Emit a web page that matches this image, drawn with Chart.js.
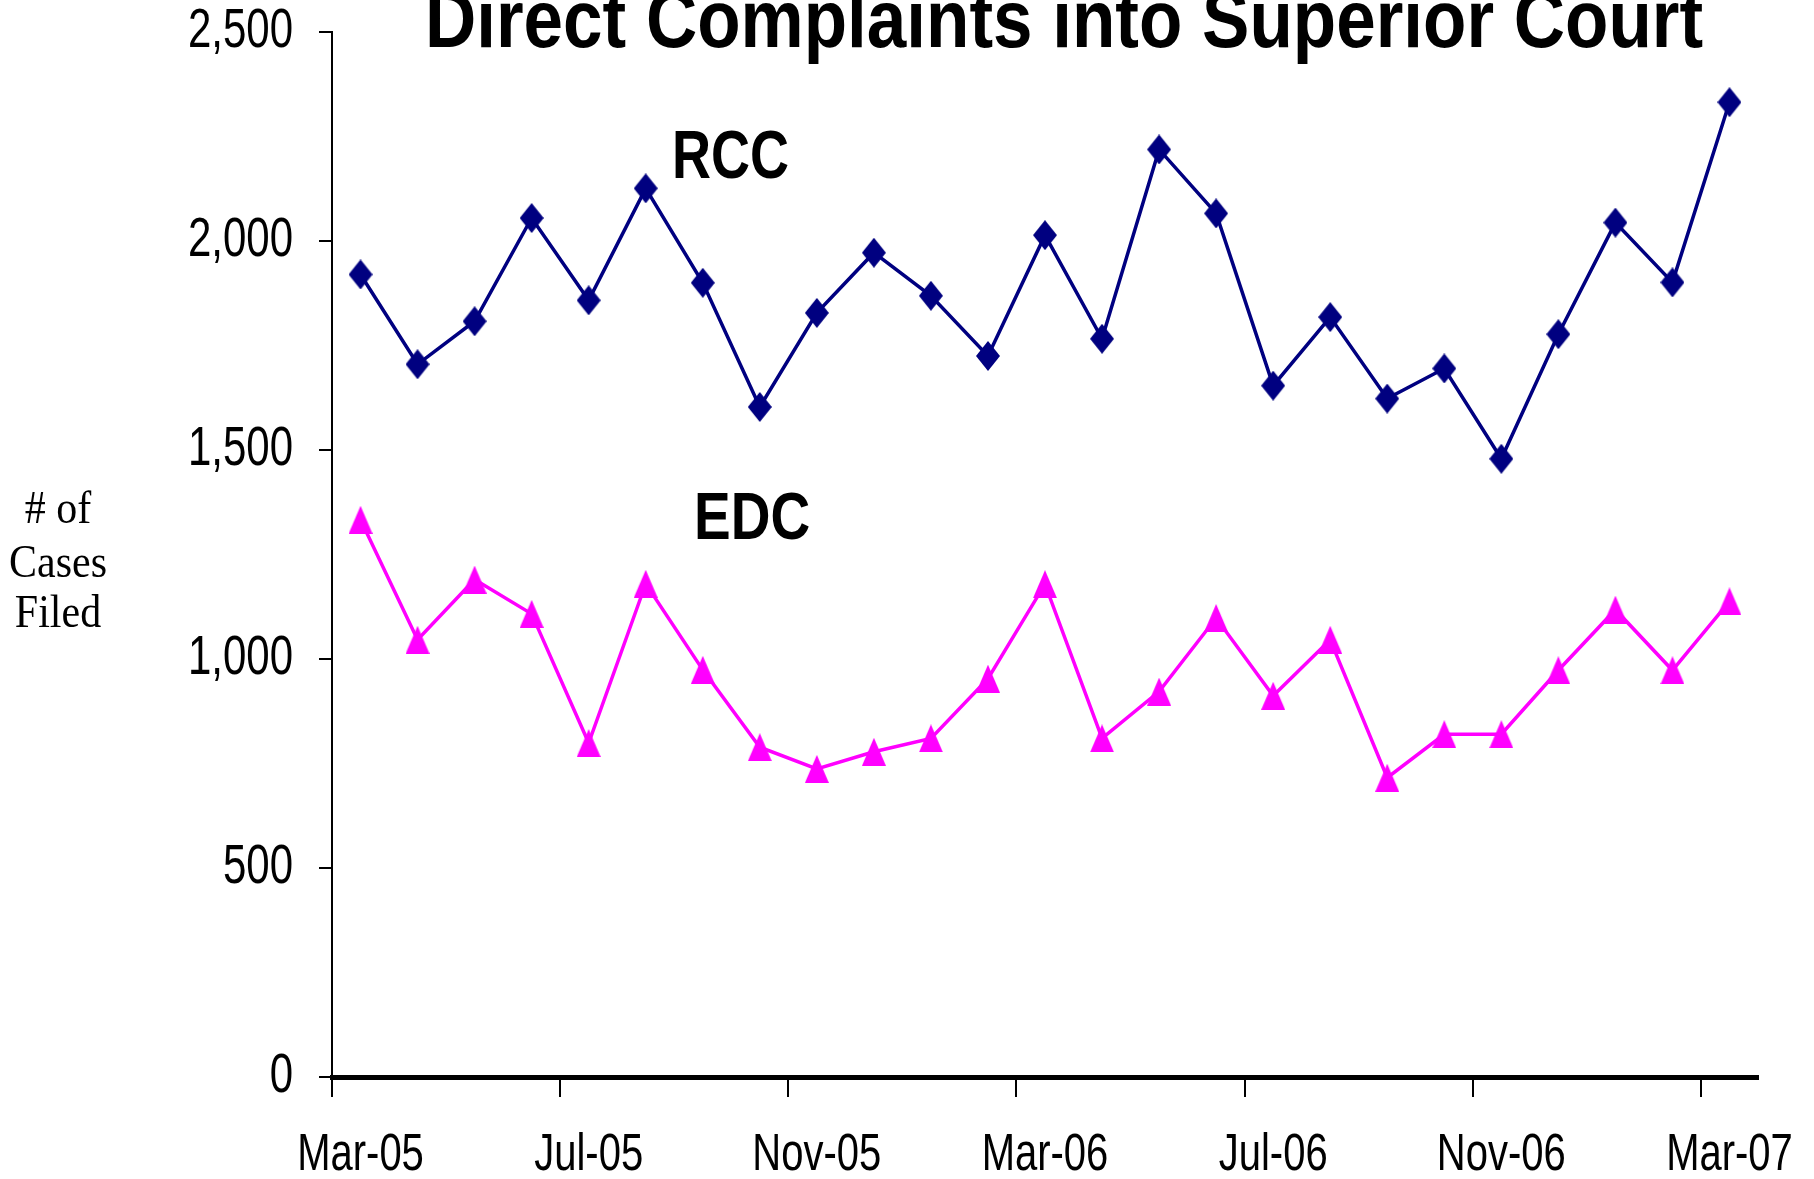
<!DOCTYPE html>
<html>
<head>
<meta charset="utf-8">
<script src="https://cdn.jsdelivr.net/npm/chart.js@4/dist/chart.umd.min.js"></script>
<style>
  html, body { margin: 0; padding: 0; background: #ffffff; }
  #wrap { width: 1814px; height: 1179px; position: relative; }
</style>
</head>
<body>
<div id="wrap"><canvas id="c"></canvas></div>
<script>
// ---- data ----
const months = ['Mar-05','Apr-05','May-05','Jun-05','Jul-05','Aug-05','Sep-05','Oct-05','Nov-05','Dec-05','Jan-06','Feb-06',
                'Mar-06','Apr-06','May-06','Jun-06','Jul-06','Aug-06','Sep-06','Oct-06','Nov-06','Dec-06','Jan-07','Feb-07','Mar-07'];
const rccValues = [1920,1705,1808,2055,1858,2126,1900,1603,1828,1972,1869,1725,2014,1766,2219,2066,1654,1818,1623,1695,1479,1777,2044,1901,2332];
const edcValues = [1333,1046,1190,1108,799,1180,974,789,737,778,810,953,1179,810,922,1098,912,1046,716,820,820,973,1118,973,1138];
const xTickLabels = ['Mar-05','Jul-05','Nov-05','Mar-06','Jul-06','Nov-06','Mar-07'];
const yTickValues = [0,500,1000,1500,2000,2500];
const chartTitle = 'Direct Complaints into Superior Court';
const yAxisTitle = ['# of','Cases','Filed'];
const seriesNames = ['RCC','EDC'];

const SANS = "'Liberation Sans', Arial, Helvetica, sans-serif";
const SERIF = "'Liberation Serif', 'Times New Roman', serif";

// ---- marker images ----
function diamond(w, h, color) {
  const cv = document.createElement('canvas'); cv.width = w; cv.height = h;
  const g = cv.getContext('2d'); g.fillStyle = color; g.beginPath();
  g.moveTo(w/2, 0); g.lineTo(w, h/2); g.lineTo(w/2, h); g.lineTo(0, h/2); g.closePath(); g.fill();
  return cv;
}
function triangle(w, h, color) {
  const cv = document.createElement('canvas'); cv.width = w; cv.height = h;
  const g = cv.getContext('2d'); g.fillStyle = color; g.beginPath();
  g.moveTo(w/2, 0); g.lineTo(w, h); g.lineTo(0, h); g.closePath(); g.fill();
  return cv;
}
const NAVY = '#000080', MAGENTA = '#ff00ff';
const diamondImg = diamond(24, 30, NAVY);
const triImg = triangle(24, 28, MAGENTA);

// The reference text is vertically elongated; draw all text with a vertical stretch.
let textStretch = 1.3;
const tallText = {
  id: 'tallText',
  beforeDraw(chart) {
    const ctx = chart.ctx;
    if (ctx.__patched) return;
    const orig = ctx.fillText;
    ctx.fillText = function (t, x, y, m) {
      this.save();
      this.translate(x, y);
      this.scale(1, textStretch);
      if (m === undefined) orig.call(this, t, 0, 0); else orig.call(this, t, 0, 0, m);
      this.restore();
    };
    ctx.__patched = true;
  }
};

function stretchedText(ctx, text, x, y, sy) {
  const old = textStretch; textStretch = sy;
  ctx.fillText(text, x, y);
  textStretch = old;
}

const annotations = {
  id: 'annotations',
  afterDraw(chart) {
    const ctx = chart.ctx;
    ctx.save();
    ctx.fillStyle = '#000';
    ctx.textBaseline = 'alphabetic';
    ctx.textAlign = 'center';
    ctx.font = 'bold 71px ' + SANS;
    stretchedText(ctx, chartTitle, 1064, 47, 1.15);
    ctx.textAlign = 'left';
    ctx.font = 'bold 54px ' + SANS;
    stretchedText(ctx, seriesNames[0], 672, 178, 1.28);
    ctx.font = 'bold 55px ' + SANS;
    stretchedText(ctx, seriesNames[1], 694, 539, 1.2);
    ctx.textAlign = 'center';
    ctx.font = '42px ' + SERIF;
    const ys = [523, 577, 627];
    yAxisTitle.forEach((t, i) => stretchedText(ctx, t, 58, ys[i], 1.1));
    ctx.restore();
  }
};

new Chart(document.getElementById('c'), {
  type: 'line',
  data: {
    labels: months,
    datasets: [
      { label: seriesNames[0], data: rccValues, borderColor: NAVY, backgroundColor: NAVY, borderWidth: 3.5,
        pointStyle: diamondImg, tension: 0, fill: false },
      { label: seriesNames[1], data: edcValues, borderColor: MAGENTA, backgroundColor: MAGENTA, borderWidth: 3.5,
        pointStyle: triImg, tension: 0, fill: false }
    ]
  },
  options: {
    responsive: true,
    maintainAspectRatio: false,
    animation: false,
    layout: { padding: { top: 32, right: 56, left: 0, bottom: 0 } },
    plugins: { legend: { display: false }, title: { display: false }, tooltip: { enabled: false } },
    scales: {
      x: {
        type: 'category',
        offset: true,
        afterFit(s) { s.height = 102; s.paddingLeft = 0; s.paddingRight = 0; },
        border: { display: true, color: '#000', width: 5 },
        grid: {
          offset: true, drawOnChartArea: false, tickLength: 20, lineWidth: 2,
          color: (c) => (c.index % 4 === 0 ? '#000' : 'rgba(0,0,0,0)')
        },
        ticks: {
          autoSkip: false, maxRotation: 0, minRotation: 0, padding: 35, color: '#000',
          font: { family: SANS, size: 40 },
          callback: function (v, i) { const l = months[i]; return xTickLabels.includes(l) ? l : ''; }
        }
      },
      y: {
        min: 0, max: 2500,
        afterFit(s) { s.width = 332; s.paddingTop = 0; s.paddingBottom = 0; },
        afterBuildTicks(s) { s.ticks = yTickValues.map(v => ({ value: v })); },
        border: { display: true, color: '#000', width: 2 },
        grid: { drawOnChartArea: false, tickLength: 13, lineWidth: 2, color: '#000' },
        ticks: {
          padding: 26, color: '#000',
          font: { family: SANS, size: 42 },
          callback: (v) => v.toLocaleString('en-US')
        }
      }
    }
  },
  plugins: [tallText, annotations]
});
</script>
</body>
</html>
